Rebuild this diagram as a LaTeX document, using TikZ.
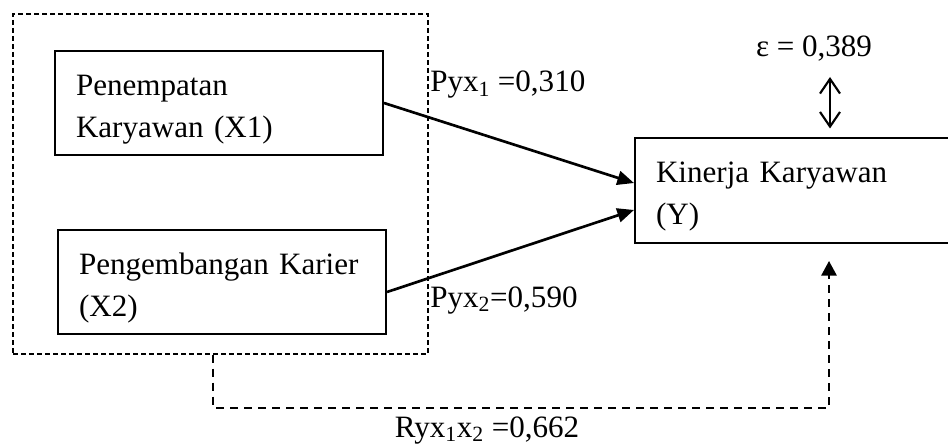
\documentclass[tikz,border=0pt]{standalone}
\usepackage{fontspec}
\setmainfont{Liberation Serif}
\usetikzlibrary{arrows.meta}
\tikzset{
  varbox/.style={draw,line width=1.5pt,minimum height=78pt,text width=214.5pt,inner xsep=15.75pt,align=left,
    execute at begin node=\rule{0pt}{25pt}},
  grpbox/.style={draw,line width=.8pt,dash pattern=on 3.75pt off 2.25pt,minimum width=311.25pt,minimum height=255pt},
  lbl/.style={inner sep=0pt},
  patharrow/.style={line width=2pt,-{Triangle[length=12.5pt,width=10.5pt]}},
  corrarrow/.style={line width=1.5pt,dash pattern=on 6pt off 4.5pt,-{Triangle[length=11pt,width=11.5pt]}},
  errarrow/.style={line width=1.6pt,{Straight Barb[length=11pt,width=15pt]}-{Straight Barb[length=11pt,width=15pt]}}
}
\begin{document}
\begin{tikzpicture}[x=0.75pt,y=-0.75pt,font=\fontsize{23.3}{31.5}\selectfont]
        \useasboundingbox (0,0) rectangle (948,445);
        \node[varbox](x1)at(219,103){Penempatan\\Karyawan (X1)};
        \node[varbox](x2)at(222,282){Pengembangan Karier\\(X2)};
        \node[varbox](y)at(799,190.5){Kinerja Karyawan\\(Y)};
        \node[grpbox](grp)at(220.5,184){};

        \draw[patharrow](x1.east)--([yshift=5.6pt]y.west);
        \draw[patharrow]([yshift=-7.5pt]x2.east)--([yshift=-14.6pt]y.west);
        \node[lbl,anchor=base west](p1)at(430,92){Pyx\textsubscript{1} =0,310};
        \node[lbl,anchor=base west](p2)at(430,307){Pyx\textsubscript{2}=0,590};

        \node[lbl,anchor=base](eps)at(814,57){ε = 0,389};
        \coordinate(etop)at(830,77);
        \draw[errarrow](etop)--([xshift=23.25pt,yshift=6.75pt]y.north);

        \coordinate(ctip)at(829,261);
        \draw[corrarrow]([xshift=-5.6pt]grp.south)--++(0,53)-|(ctip);
        \node[lbl,anchor=base](r)at(487,437){Ryx\textsubscript{1}x\textsubscript{2} =0,662};
    \end{tikzpicture}
\end{document}
